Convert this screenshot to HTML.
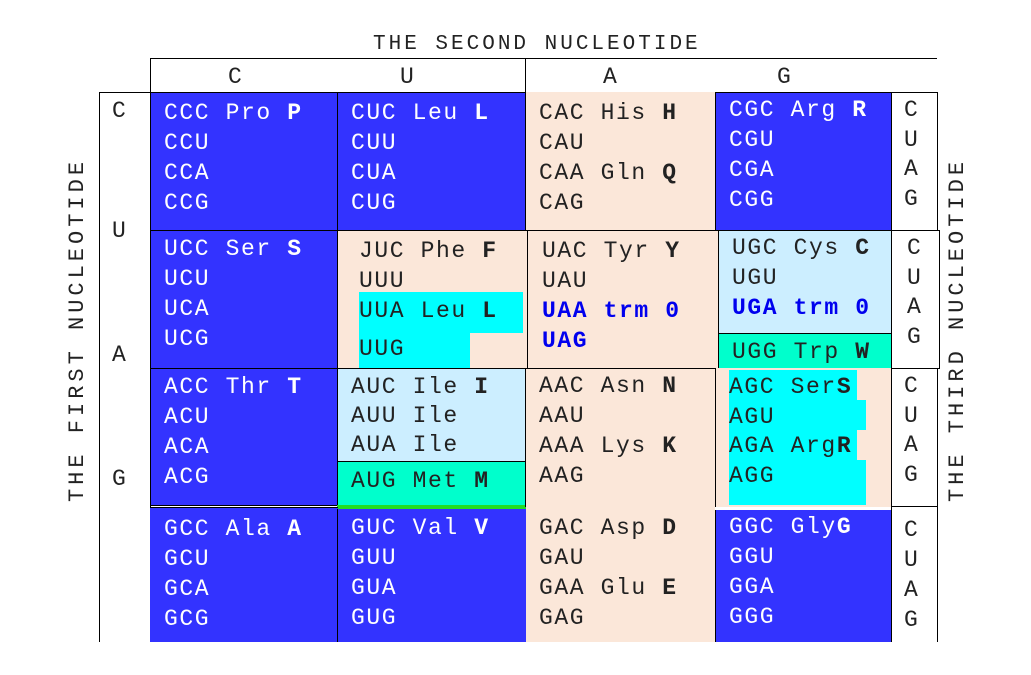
<!DOCTYPE html>
<html><head><meta charset="utf-8"><style>
body{margin:0;width:1031px;height:675px;background:#fff;position:relative;overflow:hidden;font-family:"Liberation Mono","DejaVu Sans Mono",monospace;}
div{position:absolute;box-sizing:border-box;}
.t{font-size:23px;letter-spacing:1.6px;line-height:24px;white-space:pre;}
.w{color:#fff}.d{color:#222}.s{color:#0000ee;font-weight:bold}
b{font-weight:bold}
.bl{background:#3333ff}.pe{background:#fbe7d9}.cy{background:#00ffff}.lb{background:#cceeff}.gr{background:#00ffcc}
.bd{border:1px solid #000}
.ln{background:#000}
</style></head><body>
<div class="t d" style="left:373px;top:30px;font-size:21px;letter-spacing:3px">THE SECOND NUCLEOTIDE</div>
<div class="ln" style="left:150px;top:58px;width:787px;height:1px"></div>
<div class="ln" style="left:150px;top:58px;width:1px;height:34px"></div>
<div class="ln" style="left:525px;top:58px;width:1px;height:34px"></div>
<div class="t d" style="left:228px;top:62px">C</div>
<div class="t d" style="left:400px;top:62px">U</div>
<div class="t d" style="left:603px;top:62px">A</div>
<div class="t d" style="left:777px;top:62px">G</div>
<div class="bd" style="left:99px;top:92px;width:52px;height:550px;border-bottom:none"></div>
<div class="t d" style="left:112px;top:96px">C</div>
<div class="t d" style="left:112px;top:216px">U</div>
<div class="t d" style="left:112px;top:340px">A</div>
<div class="t d" style="left:112px;top:464px">G</div>
<div class="t d" style="left:78px;top:330px;font-size:22px;letter-spacing:4px;transform:translate(-50%,-50%) rotate(-90deg);left:78px">THE FIRST NUCLEOTIDE</div>
<div class="t d" style="left:958px;top:330px;font-size:22px;letter-spacing:4px;transform:translate(-50%,-50%) rotate(-90deg)">THE THIRD NUCLEOTIDE</div>

<!-- row1 -->
<div class="bl bd" style="left:150px;top:92px;width:188px;height:139px"></div>
<div class="bl bd" style="left:337px;top:92px;width:189px;height:139px"></div>
<div class="pe" style="left:526px;top:92px;width:189px;height:139px"></div>
<div class="bl bd" style="left:715px;top:92px;width:177px;height:139px"></div>
<div class="bd" style="left:891px;top:92px;width:47px;height:139px"></div>
<!-- row2 -->
<div class="bl bd" style="left:150px;top:230px;width:188px;height:139px"></div>
<div class="pe bd" style="left:337px;top:230px;width:191px;height:139px"></div>
<div class="cy" style="left:359px;top:292px;width:164px;height:41px"></div>
<div class="cy" style="left:359px;top:333px;width:111px;height:35px"></div>
<div class="pe bd" style="left:527px;top:230px;width:192px;height:139px"></div>
<div class="lb bd" style="left:718px;top:230px;width:174px;height:104px"></div>
<div class="gr bd" style="left:718px;top:333px;width:174px;height:36px"></div>
<div class="bd" style="left:891px;top:230px;width:49px;height:139px"></div>
<!-- row3 -->
<div class="bl bd" style="left:150px;top:368px;width:188px;height:138px"></div>
<div class="lb bd" style="left:337px;top:368px;width:189px;height:94px"></div>
<div class="gr bd" style="left:337px;top:461px;width:189px;height:46px"></div>
<div style="left:337px;top:505px;width:189px;height:4px;background:#22dd22"></div>
<div class="pe bd" style="left:525px;top:368px;width:191px;height:139px;border-bottom:none"></div>
<div class="pe" style="left:716px;top:368px;width:176px;height:139px"></div>
<div class="cy" style="left:729px;top:370px;width:128px;height:135px"></div>
<div class="cy" style="left:729px;top:400px;width:137px;height:30px"></div>
<div class="cy" style="left:729px;top:460px;width:137px;height:45px"></div>
<div class="bd" style="left:891px;top:368px;width:47px;height:139px"></div>
<!-- row4 -->
<div class="bl" style="left:150px;top:507px;width:188px;height:135px;border-top:1px solid #000"></div>
<div class="bl" style="left:337px;top:509px;width:189px;height:133px;border-left:1px solid #000"></div>
<div class="pe" style="left:526px;top:507px;width:189px;height:135px"></div>
<div class="bl" style="left:715px;top:510px;width:177px;height:132px;border-left:1px solid #000"></div>
<div class="bd" style="left:891px;top:506px;width:47px;height:136px;border-bottom:none"></div>

<!-- text row1 -->
<div class="t w" style="left:164px;top:98px">CCC Pro <b>P</b>
CCU
CCA
CCG</div>
<div class="t w" style="left:351px;top:98px">CUC Leu <b>L</b>
CUU
CUA
CUG</div>
<div class="t d" style="left:539px;top:98px">CAC His <b>H</b>
CAU
CAA Gln <b>Q</b>
CAG</div>
<div class="t w" style="left:729px;top:95px">CGC Arg <b>R</b>
CGU
CGA
CGG</div>
<div class="t d" style="left:904px;top:96px;line-height:29.5px">C
U
A
G</div>
<style>.t{line-height:30px}</style>
<!-- row2 -->
<div class="t w" style="left:164px;top:234px">UCC Ser <b>S</b>
UCU
UCA
UCG</div>
<div class="t d" style="left:359px;top:236px">JUC Phe <b>F</b>
UUU
UUA Leu <b>L</b></div>
<div class="t d" style="left:359px;top:334px">UUG</div>
<div class="t d" style="left:542px;top:236px">UAC Tyr <b>Y</b>
UAU
<span class="s">UAA trm 0
UAG</span></div>
<div class="t d" style="left:732px;top:233px">UGC Cys <b>C</b>
UGU
<span class="s">UGA trm 0</span></div>
<div class="t d" style="left:732px;top:337px">UGG Trp <b>W</b></div>
<div class="t d" style="left:907px;top:234px;line-height:29.5px">C
U
A
G</div>
<!-- row3 -->
<div class="t w" style="left:164px;top:372px">ACC Thr <b>T</b>
ACU
ACA
ACG</div>
<div class="t d" style="left:351px;top:373px;line-height:29px">AUC Ile <b>I</b>
AUU Ile
AUA Ile</div>
<div class="t d" style="left:351px;top:466px">AUG Met <b>M</b></div>
<div class="t d" style="left:539px;top:371px">AAC Asn <b>N</b>
AAU
AAA Lys <b>K</b>
AAG</div>
<div class="t d" style="left:729px;top:373px;line-height:29.5px">AGC Ser<b>S</b>
AGU
AGA Arg<b>R</b>
AGG</div>
<div class="t d" style="left:904px;top:372px;line-height:29.5px">C
U
A
G</div>
<!-- row4 -->
<div class="t w" style="left:164px;top:514px">GCC Ala <b>A</b>
GCU
GCA
GCG</div>
<div class="t w" style="left:351px;top:513px">GUC Val <b>V</b>
GUU
GUA
GUG</div>
<div class="t d" style="left:539px;top:513px">GAC Asp <b>D</b>
GAU
GAA Glu <b>E</b>
GAG</div>
<div class="t w" style="left:729px;top:512px">GGC Gly<b>G</b>
GGU
GGA
GGG</div>
<div class="t d" style="left:904px;top:515px;line-height:30px">C
U
A
G</div>
</body></html>
